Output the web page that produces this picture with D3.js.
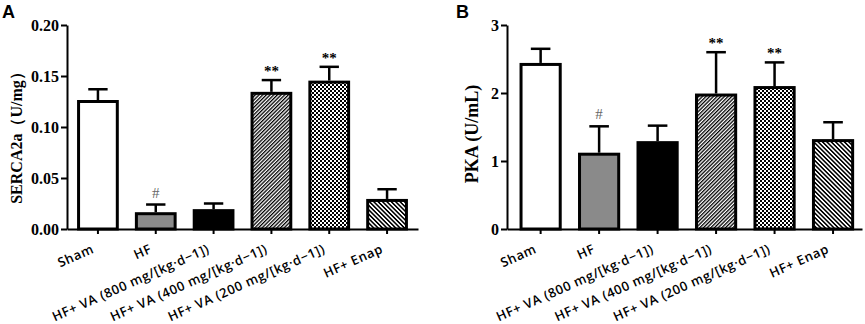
<!DOCTYPE html>
<html>
<head>
<meta charset="utf-8">
<script src="https://cdn.jsdelivr.net/npm/d3@7"></script>
<style>
  body { margin: 0; background: #fff; }
  svg { display: block; }
  .tick-num { font-family: "Times New Roman", "Liberation Serif", serif; font-weight: bold; font-size: 16px; }
  .cat { font-family: "Open Sans", sans-serif; font-weight: 600; font-size: 13px; letter-spacing: 0.6px; }
</style>
</head>
<body>
<svg class="svg"></svg>
<script>
// groups along the x axis (same for both panels)
const groups = [
    'Sham',
    'HF',
    'HF+ VA (800 mg/[kg·d−1])',
    'HF+ VA (400 mg/[kg·d−1])',
    'HF+ VA (200 mg/[kg·d−1])',
    'HF+ Enap'
];

// panel A: SERCA2a
const sercaMean = [0.125, 0.015, 0.018, 0.133, 0.144, 0.028];
const sercaErr = [0.012, 0.009, 0.007, 0.013, 0.015, 0.011];
const sercaTicks = [0, 0.05, 0.10, 0.15, 0.20];

// panel B: PKA
const pkaMean = [2.42, 1.10, 1.27, 1.97, 2.08, 1.30];
const pkaErr = [0.23, 0.41, 0.25, 0.63, 0.37, 0.27];
const pkaTicks = [0, 1, 2, 3];

// significance marks above the error bars
const sigMarks = ['', '#', '', '**', '**', ''];

const width = 865;
const height = 324;

const svg = d3.select('.svg')
    .attr('width', width)
    .attr('height', height)
    .attr('viewBox', `0 0 ${width} ${height}`);

/* PATTERNS */
const defs = svg.append('defs');

function stripes (id, period, angle) {
    const p = defs.append('pattern')
        .attr('id', id)
        .attr('patternUnits', 'userSpaceOnUse')
        .attr('width', period)
        .attr('height', period)
        .attr('patternTransform', `rotate(${angle})`);
    p.append('rect').attr('width', period).attr('height', period).attr('fill', '#fff');
    p.append('rect').attr('width', period / 2).attr('height', period).attr('fill', '#000');
}
stripes('fwd', 2.6, 45);
stripes('back', 3.1, -45);

const checker = defs.append('pattern')
    .attr('id', 'checker')
    .attr('patternUnits', 'userSpaceOnUse')
    .attr('width', 4)
    .attr('height', 4);
checker.append('rect').attr('width', 4).attr('height', 4).attr('fill', '#fff');
checker.append('rect').attr('width', 2).attr('height', 2).attr('fill', '#000');
checker.append('rect').attr('x', 2).attr('y', 2).attr('width', 2).attr('height', 2).attr('fill', '#000');

const fills = ['#fff', '#8a8a8a', '#000', 'url(#fwd)', 'url(#checker)', 'url(#back)'];

function drawPanel (opts) {
    const g = svg.append('g');
    const data = groups.map((name, i) => ({
        name: name,
        mean: opts.mean[i],
        err: opts.err[i],
        mark: sigMarks[i],
        fill: fills[i]
    }));

    /* X SCALE */
    const xScale = d3.scaleBand()
        .domain(groups)
        .range([opts.left, opts.right])
        .paddingInner(0.33)
        .paddingOuter(0.2)
        .align(opts.align);

    /* Y SCALE */
    const yScale = d3.scaleLinear()
        .domain(opts.domain)
        .range([229, 25]);

    const yAxis = d3.axisLeft(yScale)
        .tickValues(opts.ticks)
        .tickFormat(opts.format)
        .tickSize(6)
        .tickSizeOuter(0)
        .tickPadding(2);

    const xAxis = d3.axisBottom(xScale)
        .tickSize(5)
        .tickSizeOuter(0);

    g.selectAll('rect.bar')
        .data(data).enter()
        .append('rect')
        .attr('class', 'bar')
        .attr('x', d => xScale(d.name))
        .attr('y', d => yScale(d.mean))
        .attr('width', xScale.bandwidth())
        .attr('height', d => yScale(0) - yScale(d.mean))
        .attr('fill', d => d.fill)
        .attr('stroke', '#000')
        .attr('stroke-width', 3);

    const cx = d => xScale(d.name) + xScale.bandwidth() / 2;
    const capHalf = xScale.bandwidth() / 4;

    g.selectAll('line.err')
        .data(data).enter()
        .append('line')
        .attr('class', 'err')
        .attr('x1', cx).attr('x2', cx)
        .attr('y1', d => yScale(d.mean) - 1.5)
        .attr('y2', d => yScale(d.mean + d.err))
        .attr('stroke', '#000')
        .attr('stroke-width', 2.5);

    g.selectAll('line.cap')
        .data(data).enter()
        .append('line')
        .attr('class', 'cap')
        .attr('x1', d => cx(d) - capHalf)
        .attr('x2', d => cx(d) + capHalf)
        .attr('y1', d => yScale(d.mean + d.err))
        .attr('y2', d => yScale(d.mean + d.err))
        .attr('stroke', '#000')
        .attr('stroke-width', 2.5);

    g.selectAll('text.sig')
        .data(data.filter(d => d.mark !== '')).enter()
        .append('text')
        .attr('class', 'sig')
        .attr('x', cx)
        .attr('y', d => yScale(d.mean + d.err) - (d.mark === '#' ? 7 : 4))
        .attr('text-anchor', 'middle')
        .style('font-family', '"Times New Roman", "Liberation Serif", serif')
        .style('font-weight', d => d.mark === '#' ? 'normal' : 'bold')
        .style('font-size', '15px')
        .attr('fill', d => d.mark === '#' ? '#666' : '#000')
        .text(d => d.mark);

    const yG = g.append('g')
        .attr('transform', `translate(${opts.left}, 0)`)
        .call(yAxis);
    yG.selectAll('text').attr('class', 'tick-num').attr('fill', '#000');

    const xG = g.append('g')
        .attr('transform', `translate(0, ${yScale(0)})`)
        .call(xAxis);
    xG.selectAll('text')
        .attr('class', 'cat')
        .attr('fill', '#000')
        .attr('text-anchor', 'end')
        .attr('x', 0)
        .attr('y', 0)
        .attr('dy', '0.35em')
        .attr('transform', 'translate(-5, 19) rotate(-24)');

    [yG, xG].forEach(a => {
        a.select('.domain').attr('stroke', '#000').attr('stroke-width', 2);
        a.selectAll('.tick line').attr('stroke', '#000').attr('stroke-width', 2);
    });

    g.append('text')
        .attr('transform', `translate(${opts.titleX}, 134) rotate(-90)`)
        .attr('text-anchor', 'middle')
        .attr('dominant-baseline', 'central')
        .style('font-family', '"Times New Roman", "Liberation Serif", serif')
        .style('font-weight', 'bold')
        .style('font-size', opts.titleSize)
        .text(opts.title);

    g.append('text')
        .attr('x', opts.letterX)
        .attr('y', 18)
        .style('font-family', 'Arial, "Liberation Sans", sans-serif')
        .style('font-weight', 'bold')
        .style('font-size', '18px')
        .text(opts.letter);
}

drawPanel({
    mean: sercaMean, err: sercaErr, ticks: sercaTicks,
    domain: [0, 0.2], format: d3.format('.2f'),
    left: 67, right: 418, align: 0.5,
    title: 'SERCA2a（U/mg）', titleX: 16, titleSize: '16px',
    letter: 'A', letterX: 2
});

drawPanel({
    mean: pkaMean, err: pkaErr, ticks: pkaTicks,
    domain: [0, 3], format: d3.format('d'),
    left: 507, right: 862, align: 0.6,
    title: 'PKA (U/mL)', titleX: 472, titleSize: '18px',
    letter: 'B', letterX: 456
});
</script>
</body>
</html>
